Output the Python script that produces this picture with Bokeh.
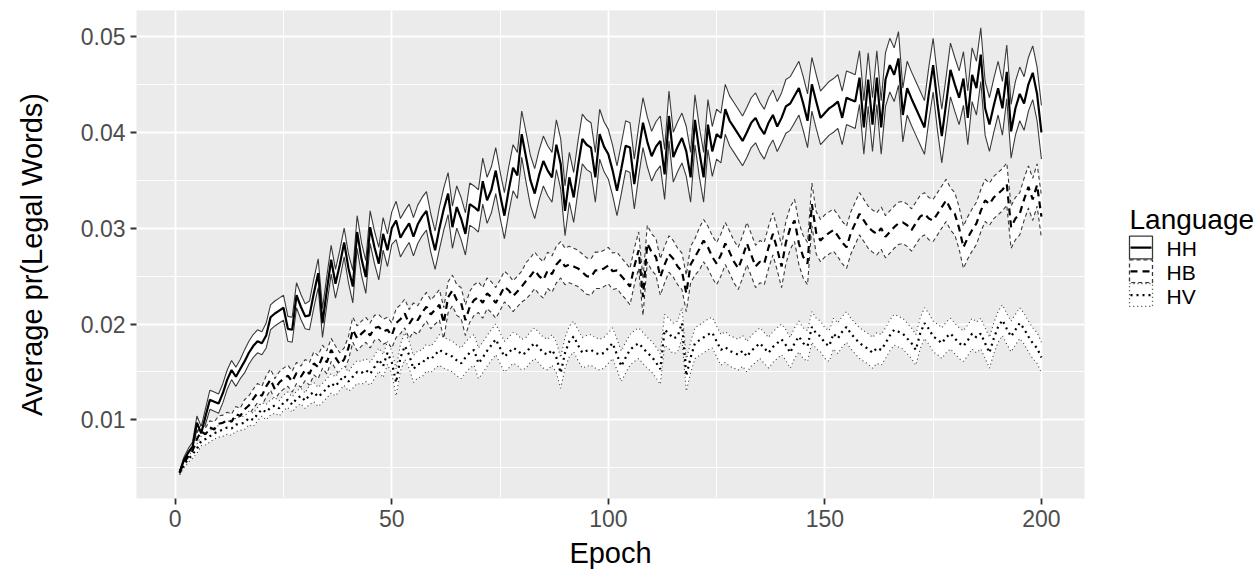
from bokeh.plotting import figure
from bokeh.models import ColumnDataSource, Range1d, FixedTicker, PrintfTickFormatter
from bokeh.layouts import row
from bokeh.core.properties import value
from bokeh.embed import file_html
from bokeh.resources import INLINE

languages = ["HH", "HB", "HV"]
epochs = list(range(1, 201))

HH_mean = [
    0.0045, 0.0058, 0.0066, 0.0072, 0.0097, 0.0086, 0.0104, 0.0121, 0.0119, 0.0117,
    0.0128, 0.0142, 0.0152, 0.0145, 0.0153, 0.0161, 0.0170, 0.0177, 0.0182, 0.0180,
    0.0188, 0.0207, 0.0211, 0.0214, 0.0217, 0.0195, 0.0194, 0.0230, 0.0218, 0.0208,
    0.0209, 0.0232, 0.0253, 0.0201, 0.0235, 0.0267, 0.0242, 0.0262, 0.0285, 0.0258,
    0.0239, 0.0296, 0.0268, 0.0249, 0.0301, 0.0280, 0.0263, 0.0294, 0.0277, 0.0300,
    0.0308, 0.0290, 0.0298, 0.0305, 0.0291, 0.0304, 0.0312, 0.0318, 0.0295, 0.0277,
    0.0300, 0.0320, 0.0336, 0.0301, 0.0322, 0.0310, 0.0294, 0.0325, 0.0322, 0.0318,
    0.0349, 0.0329, 0.0340, 0.0360, 0.0335, 0.0313, 0.0340, 0.0363, 0.0355, 0.0398,
    0.0374, 0.0350, 0.0336, 0.0355, 0.0370, 0.0360, 0.0353, 0.0387, 0.0367, 0.0318,
    0.0353, 0.0332, 0.0365, 0.0393, 0.0387, 0.0384, 0.0353, 0.0398, 0.0385, 0.0377,
    0.0360, 0.0339, 0.0362, 0.0386, 0.0384, 0.0346, 0.0380, 0.0410, 0.0390, 0.0375,
    0.0385, 0.0391, 0.0356, 0.0417, 0.0374, 0.0385, 0.0394, 0.0380, 0.0353, 0.0413,
    0.0380, 0.0353, 0.0408, 0.0380, 0.0398, 0.0394, 0.0424, 0.0412, 0.0405, 0.0398,
    0.0391, 0.0400, 0.0410, 0.0415, 0.0405, 0.0398, 0.0410, 0.0418, 0.0406, 0.0415,
    0.0427, 0.0430, 0.0438, 0.0446, 0.0430, 0.0412, 0.0450, 0.0432, 0.0415, 0.0420,
    0.0425, 0.0428, 0.0432, 0.0415, 0.0436, 0.0434, 0.0432, 0.0457, 0.0405, 0.0455,
    0.0408, 0.0457, 0.0405, 0.0455, 0.0470, 0.0460, 0.0477, 0.0418, 0.0446, 0.0435,
    0.0425, 0.0415, 0.0405, 0.0440, 0.0470, 0.0430, 0.0396, 0.0430, 0.0465, 0.0450,
    0.0436, 0.0456, 0.0415, 0.0460, 0.0446, 0.0481, 0.0425, 0.0408, 0.0428, 0.0446,
    0.0425, 0.0463, 0.0401, 0.0425, 0.0440, 0.0430, 0.0450, 0.0462, 0.0440, 0.0400,
]

HB_mean = [
    0.0045, 0.0055, 0.0062, 0.0068, 0.0080, 0.0088, 0.0085, 0.0092, 0.0090, 0.0096,
    0.0097, 0.0100, 0.0098, 0.0106, 0.0104, 0.0111, 0.0115, 0.0122, 0.0128, 0.0125,
    0.0135, 0.0142, 0.0132, 0.0139, 0.0143, 0.0146, 0.0140, 0.0149, 0.0145, 0.0152,
    0.0148, 0.0159, 0.0155, 0.0166, 0.0160, 0.0173, 0.0165, 0.0158, 0.0163, 0.0175,
    0.0194, 0.0185, 0.0190, 0.0194, 0.0188, 0.0196, 0.0197, 0.0192, 0.0194, 0.0188,
    0.0201, 0.0205, 0.0211, 0.0200, 0.0207, 0.0204, 0.0212, 0.0218, 0.0210, 0.0215,
    0.0220, 0.0201, 0.0228, 0.0235, 0.0225, 0.0222, 0.0204, 0.0218, 0.0225, 0.0228,
    0.0222, 0.0232, 0.0228, 0.0222, 0.0230, 0.0239, 0.0235, 0.0229, 0.0234, 0.0239,
    0.0245, 0.0250, 0.0256, 0.0250, 0.0246, 0.0256, 0.0252, 0.0262, 0.0267, 0.0260,
    0.0262, 0.0260, 0.0258, 0.0254, 0.0250, 0.0249, 0.0256, 0.0256, 0.0258, 0.0261,
    0.0255, 0.0256, 0.0250, 0.0245, 0.0239, 0.0260, 0.0277, 0.0228, 0.0284, 0.0275,
    0.0270, 0.0249, 0.0262, 0.0273, 0.0268, 0.0260, 0.0255, 0.0232, 0.0262, 0.0270,
    0.0278, 0.0287, 0.0280, 0.0270, 0.0263, 0.0272, 0.0284, 0.0275, 0.0265, 0.0258,
    0.0270, 0.0284, 0.0272, 0.0260, 0.0265, 0.0263, 0.0280, 0.0294, 0.0278, 0.0260,
    0.0285, 0.0300, 0.0308, 0.0284, 0.0270, 0.0263, 0.0325, 0.0295, 0.0287, 0.0292,
    0.0295, 0.0298, 0.0292, 0.0285, 0.0280, 0.0295, 0.0305, 0.0315, 0.0308, 0.0301,
    0.0297, 0.0294, 0.0300, 0.0291, 0.0296, 0.0301, 0.0305, 0.0306, 0.0303, 0.0298,
    0.0305, 0.0312, 0.0315, 0.0310, 0.0308, 0.0315, 0.0322, 0.0329, 0.0320, 0.0315,
    0.0300, 0.0280, 0.0290, 0.0298, 0.0305, 0.0318, 0.0329, 0.0325, 0.0332, 0.0336,
    0.0340, 0.0346, 0.0301, 0.0310, 0.0315, 0.0330, 0.0343, 0.0330, 0.0345, 0.0312,
]

HV_mean = [
    0.0045, 0.0053, 0.0059, 0.0064, 0.0070, 0.0078, 0.0080, 0.0083, 0.0086, 0.0088,
    0.0090, 0.0092, 0.0091, 0.0095, 0.0096, 0.0097, 0.0102, 0.0100, 0.0106, 0.0111,
    0.0108, 0.0113, 0.0115, 0.0112, 0.0118, 0.0121, 0.0116, 0.0122, 0.0125, 0.0120,
    0.0126, 0.0129, 0.0124, 0.0128, 0.0133, 0.0138, 0.0135, 0.0141, 0.0146, 0.0140,
    0.0145, 0.0150, 0.0149, 0.0152, 0.0148, 0.0155, 0.0163, 0.0156, 0.0170, 0.0160,
    0.0139, 0.0165, 0.0177, 0.0168, 0.0153, 0.0158, 0.0159, 0.0165, 0.0163, 0.0168,
    0.0173, 0.0170, 0.0168, 0.0166, 0.0162, 0.0159, 0.0165, 0.0170, 0.0173, 0.0159,
    0.0165, 0.0172, 0.0178, 0.0184, 0.0175, 0.0166, 0.0170, 0.0175, 0.0173, 0.0168,
    0.0170, 0.0176, 0.0180, 0.0175, 0.0170, 0.0168, 0.0173, 0.0165, 0.0149, 0.0170,
    0.0182, 0.0187, 0.0178, 0.0170, 0.0172, 0.0173, 0.0170, 0.0168, 0.0170, 0.0175,
    0.0180, 0.0168, 0.0156, 0.0165, 0.0173, 0.0177, 0.0180, 0.0175, 0.0170, 0.0166,
    0.0160, 0.0153, 0.0194, 0.0190, 0.0185, 0.0187, 0.0201, 0.0146, 0.0165, 0.0180,
    0.0183, 0.0186, 0.0189, 0.0191, 0.0182, 0.0173, 0.0176, 0.0172, 0.0170, 0.0168,
    0.0172, 0.0166, 0.0172, 0.0176, 0.0180, 0.0175, 0.0170, 0.0176, 0.0180, 0.0184,
    0.0178, 0.0170, 0.0180, 0.0187, 0.0180, 0.0177, 0.0197, 0.0190, 0.0187, 0.0180,
    0.0177, 0.0190, 0.0185, 0.0192, 0.0197, 0.0190, 0.0185, 0.0180, 0.0177, 0.0174,
    0.0170, 0.0175, 0.0173, 0.0180, 0.0188, 0.0194, 0.0192, 0.0190, 0.0185, 0.0180,
    0.0173, 0.0190, 0.0201, 0.0195, 0.0187, 0.0184, 0.0180, 0.0186, 0.0190, 0.0185,
    0.0180, 0.0177, 0.0183, 0.0190, 0.0186, 0.0190, 0.0180, 0.0170, 0.0185, 0.0197,
    0.0204, 0.0195, 0.0187, 0.0194, 0.0201, 0.0195, 0.0187, 0.0180, 0.0175, 0.0165,
]

# half-width of the confidence ribbon around each mean
HH_halfwidth = [
    0.0002, 0.0003, 0.0004, 0.0005, 0.0007, 0.0007, 0.0008, 0.0010, 0.0010, 0.0010,
    0.0010, 0.0010, 0.0010, 0.0010, 0.0010, 0.0012, 0.0012, 0.0012, 0.0012, 0.0012,
    0.0013, 0.0013, 0.0013, 0.0013, 0.0013, 0.0013, 0.0013, 0.0013, 0.0013, 0.0013,
    0.0015, 0.0015, 0.0015, 0.0015, 0.0015, 0.0015, 0.0015, 0.0015, 0.0015, 0.0015,
    0.0017, 0.0017, 0.0017, 0.0017, 0.0017, 0.0017, 0.0017, 0.0017, 0.0017, 0.0017,
    0.0020, 0.0020, 0.0020, 0.0020, 0.0020, 0.0020, 0.0020, 0.0020, 0.0020, 0.0020,
    0.0022, 0.0022, 0.0022, 0.0022, 0.0022, 0.0022, 0.0022, 0.0022, 0.0022, 0.0022,
    0.0024, 0.0024, 0.0024, 0.0024, 0.0024, 0.0024, 0.0024, 0.0024, 0.0024, 0.0024,
    0.0026, 0.0026, 0.0026, 0.0026, 0.0026, 0.0026, 0.0026, 0.0026, 0.0026, 0.0026,
    0.0026, 0.0026, 0.0026, 0.0026, 0.0026, 0.0026, 0.0026, 0.0026, 0.0026, 0.0026,
    0.0026, 0.0026, 0.0026, 0.0026, 0.0026, 0.0026, 0.0026, 0.0026, 0.0026, 0.0026,
    0.0026, 0.0026, 0.0026, 0.0026, 0.0026, 0.0026, 0.0026, 0.0026, 0.0026, 0.0026,
    0.0026, 0.0026, 0.0026, 0.0026, 0.0026, 0.0026, 0.0026, 0.0026, 0.0026, 0.0026,
    0.0026, 0.0026, 0.0026, 0.0026, 0.0026, 0.0026, 0.0026, 0.0026, 0.0026, 0.0026,
    0.0028, 0.0028, 0.0028, 0.0028, 0.0028, 0.0028, 0.0028, 0.0028, 0.0028, 0.0028,
    0.0028, 0.0028, 0.0028, 0.0028, 0.0028, 0.0028, 0.0028, 0.0028, 0.0028, 0.0028,
    0.0028, 0.0028, 0.0028, 0.0028, 0.0028, 0.0028, 0.0028, 0.0028, 0.0028, 0.0028,
    0.0028, 0.0028, 0.0028, 0.0028, 0.0028, 0.0028, 0.0028, 0.0028, 0.0028, 0.0028,
    0.0028, 0.0028, 0.0028, 0.0028, 0.0028, 0.0028, 0.0028, 0.0028, 0.0028, 0.0028,
    0.0028, 0.0028, 0.0028, 0.0028, 0.0028, 0.0028, 0.0028, 0.0028, 0.0028, 0.0028,
]

HB_halfwidth = [
    0.0002, 0.0003, 0.0004, 0.0005, 0.0006, 0.0007, 0.0007, 0.0007, 0.0008, 0.0008,
    0.0008, 0.0008, 0.0008, 0.0008, 0.0008, 0.0010, 0.0010, 0.0010, 0.0010, 0.0010,
    0.0011, 0.0011, 0.0011, 0.0011, 0.0011, 0.0011, 0.0011, 0.0011, 0.0011, 0.0011,
    0.0012, 0.0012, 0.0012, 0.0012, 0.0012, 0.0012, 0.0012, 0.0012, 0.0012, 0.0012,
    0.0013, 0.0013, 0.0013, 0.0013, 0.0013, 0.0013, 0.0013, 0.0013, 0.0013, 0.0013,
    0.0015, 0.0015, 0.0015, 0.0015, 0.0015, 0.0015, 0.0015, 0.0015, 0.0015, 0.0015,
    0.0016, 0.0016, 0.0016, 0.0016, 0.0016, 0.0016, 0.0016, 0.0016, 0.0016, 0.0016,
    0.0016, 0.0016, 0.0016, 0.0016, 0.0016, 0.0016, 0.0016, 0.0016, 0.0016, 0.0016,
    0.0019, 0.0019, 0.0019, 0.0019, 0.0019, 0.0019, 0.0019, 0.0019, 0.0019, 0.0019,
    0.0019, 0.0019, 0.0019, 0.0019, 0.0019, 0.0019, 0.0019, 0.0019, 0.0019, 0.0019,
    0.0019, 0.0019, 0.0019, 0.0019, 0.0019, 0.0019, 0.0019, 0.0019, 0.0019, 0.0019,
    0.0019, 0.0019, 0.0019, 0.0019, 0.0019, 0.0019, 0.0019, 0.0019, 0.0019, 0.0019,
    0.0022, 0.0022, 0.0022, 0.0022, 0.0022, 0.0022, 0.0022, 0.0022, 0.0022, 0.0022,
    0.0022, 0.0022, 0.0022, 0.0022, 0.0022, 0.0022, 0.0022, 0.0022, 0.0022, 0.0022,
    0.0022, 0.0022, 0.0022, 0.0022, 0.0022, 0.0022, 0.0022, 0.0022, 0.0022, 0.0022,
    0.0022, 0.0022, 0.0022, 0.0022, 0.0022, 0.0022, 0.0022, 0.0022, 0.0022, 0.0022,
    0.0022, 0.0022, 0.0022, 0.0022, 0.0022, 0.0022, 0.0022, 0.0022, 0.0022, 0.0022,
    0.0022, 0.0022, 0.0022, 0.0022, 0.0022, 0.0022, 0.0022, 0.0022, 0.0022, 0.0022,
    0.0022, 0.0022, 0.0022, 0.0022, 0.0022, 0.0022, 0.0022, 0.0022, 0.0022, 0.0022,
    0.0022, 0.0022, 0.0022, 0.0022, 0.0022, 0.0022, 0.0022, 0.0022, 0.0022, 0.0022,
]

HV_halfwidth = [
    0.0002, 0.0003, 0.0003, 0.0004, 0.0005, 0.0005, 0.0006, 0.0006, 0.0006, 0.0006,
    0.0007, 0.0007, 0.0007, 0.0007, 0.0007, 0.0007, 0.0007, 0.0007, 0.0007, 0.0007,
    0.0008, 0.0008, 0.0008, 0.0008, 0.0008, 0.0008, 0.0008, 0.0008, 0.0008, 0.0008,
    0.0010, 0.0010, 0.0010, 0.0010, 0.0010, 0.0010, 0.0010, 0.0010, 0.0010, 0.0010,
    0.0012, 0.0012, 0.0012, 0.0012, 0.0012, 0.0012, 0.0012, 0.0012, 0.0012, 0.0012,
    0.0014, 0.0014, 0.0014, 0.0014, 0.0014, 0.0014, 0.0014, 0.0014, 0.0014, 0.0014,
    0.0016, 0.0016, 0.0016, 0.0016, 0.0016, 0.0016, 0.0016, 0.0016, 0.0016, 0.0016,
    0.0016, 0.0016, 0.0016, 0.0016, 0.0016, 0.0016, 0.0016, 0.0016, 0.0016, 0.0016,
    0.0016, 0.0016, 0.0016, 0.0016, 0.0016, 0.0016, 0.0016, 0.0016, 0.0016, 0.0016,
    0.0016, 0.0016, 0.0016, 0.0016, 0.0016, 0.0016, 0.0016, 0.0016, 0.0016, 0.0016,
    0.0016, 0.0016, 0.0016, 0.0016, 0.0016, 0.0016, 0.0016, 0.0016, 0.0016, 0.0016,
    0.0016, 0.0016, 0.0016, 0.0016, 0.0016, 0.0016, 0.0016, 0.0016, 0.0016, 0.0016,
    0.0016, 0.0016, 0.0016, 0.0016, 0.0016, 0.0016, 0.0016, 0.0016, 0.0016, 0.0016,
    0.0016, 0.0016, 0.0016, 0.0016, 0.0016, 0.0016, 0.0016, 0.0016, 0.0016, 0.0016,
    0.0016, 0.0016, 0.0016, 0.0016, 0.0016, 0.0016, 0.0016, 0.0016, 0.0016, 0.0016,
    0.0016, 0.0016, 0.0016, 0.0016, 0.0016, 0.0016, 0.0016, 0.0016, 0.0016, 0.0016,
    0.0016, 0.0016, 0.0016, 0.0016, 0.0016, 0.0016, 0.0016, 0.0016, 0.0016, 0.0016,
    0.0016, 0.0016, 0.0016, 0.0016, 0.0016, 0.0016, 0.0016, 0.0016, 0.0016, 0.0016,
    0.0016, 0.0016, 0.0016, 0.0016, 0.0016, 0.0016, 0.0016, 0.0016, 0.0016, 0.0016,
    0.0016, 0.0016, 0.0016, 0.0016, 0.0016, 0.0016, 0.0016, 0.0016, 0.0016, 0.0016,
]

x_ticks = [0, 50, 100, 150, 200]
x_minor = [25, 75, 125, 175]
y_ticks = [0.01, 0.02, 0.03, 0.04, 0.05]
y_minor = [0.005, 0.015, 0.025, 0.035, 0.045]

means = {"HH": HH_mean, "HB": HB_mean, "HV": HV_mean}
halfw = {"HH": HH_halfwidth, "HB": HB_halfwidth, "HV": HV_halfwidth}

FONT = "Liberation Sans"
outline_dash = {"HH": "solid", "HB": "4 3", "HV": "1 3"}
mean_dash = {"HH": "solid", "HB": "7 5", "HV": "2 4"}
OUTLINE = "#3a3a3a"

MAIN_W, LEG_W, H = 1100, 160, 571
TOP, BOTTOM = 10, 68

p = figure(width=MAIN_W, height=H, output_backend="svg", toolbar_location=None,
           x_range=Range1d(-8.95, 209.95), y_range=Range1d(0.0018, 0.0527),
           min_border_left=136, min_border_right=16, min_border_top=TOP,
           min_border_bottom=BOTTOM)
p.background_fill_color = "#EBEBEB"
p.border_fill_color = "white"
p.outline_line_color = None

# axes
p.xaxis.ticker = FixedTicker(ticks=x_ticks, minor_ticks=x_minor)
p.yaxis.ticker = FixedTicker(ticks=y_ticks, minor_ticks=y_minor)
p.yaxis.formatter = PrintfTickFormatter(format="%.2f")
for ax in (p.xaxis[0], p.yaxis[0]):
    ax.axis_line_color = None
    ax.major_tick_in = 0
    ax.major_tick_out = 6
    ax.major_tick_line_color = "#333333"
    ax.major_tick_line_width = 1.8
    ax.minor_tick_line_color = None
    ax.major_label_text_font = FONT
    ax.major_label_text_font_size = "23px"
    ax.major_label_text_color = "#4D4D4D"
    ax.major_label_standoff = 5
    ax.axis_label_text_font = FONT
    ax.axis_label_text_font_size = "29px"
    ax.axis_label_text_font_style = "normal"
    ax.axis_label_text_color = "black"
p.xaxis.axis_label = "Epoch"
p.yaxis.axis_label = "Average pr(Legal Words)"
p.xaxis.axis_label_standoff = 7
p.yaxis.axis_label_standoff = 30

for g in (p.xgrid[0], p.ygrid[0]):
    g.grid_line_color = "white"
    g.grid_line_width = 1.8
    g.minor_grid_line_color = "white"
    g.minor_grid_line_width = 0.9

# ribbons (fill + upper/lower outlines), drawn group by group
for lang in languages:
    m = means[lang]
    h = halfw[lang]
    src = ColumnDataSource(dict(x=epochs,
                                lower=[a - b for a, b in zip(m, h)],
                                upper=[a + b for a, b in zip(m, h)]))
    p.varea(x="x", y1="lower", y2="upper", source=src, fill_color="white")
    p.line(x="x", y="upper", source=src, line_color=OUTLINE, line_width=1.1,
           line_dash=outline_dash[lang])
    p.line(x="x", y="lower", source=src, line_color=OUTLINE, line_width=1.1,
           line_dash=outline_dash[lang])

# mean lines
for lang in languages:
    src = ColumnDataSource(dict(x=epochs, y=means[lang]))
    p.line(x="x", y="y", source=src, line_color="black", line_width=2.2,
           line_dash=mean_dash[lang])

# ---- legend panel: separate figure whose frame matches the main frame vertically;
# its ranges are set so that coordinates equal page pixels (y downwards) ----
leg = figure(width=LEG_W, height=H, output_backend="svg", toolbar_location=None,
             title=None, x_range=Range1d(0, LEG_W), y_range=Range1d(H - BOTTOM, TOP),
             min_border_left=0, min_border_right=0,
             min_border_top=TOP, min_border_bottom=BOTTOM,
             x_axis_type=None, y_axis_type=None)
leg.grid.visible = False
leg.outline_line_color = None
leg.background_fill_color = "white"
leg.border_fill_color = "white"

key_left, key_w, key_h, key_top0, key_step = 29, 23, 23, 238, 24
leg.text(x=[key_left], y=[221], text=["Language"], text_font=value(FONT),
         text_font_size="28px", text_color="black", text_baseline="alphabetic")
for i, lang in enumerate(languages):
    top = key_top0 + i * key_step
    mid = top + key_h / 2
    leg.quad(left=[key_left], right=[key_left + key_w], top=[top], bottom=[top + key_h],
             fill_color="white", line_color=OUTLINE, line_width=1.3,
             line_dash=outline_dash[lang])
    leg.segment(x0=[key_left + 1], y0=[mid], x1=[key_left + key_w - 1], y1=[mid],
                line_color="black", line_width=2.2, line_dash=mean_dash[lang])
    leg.text(x=[key_left + key_w + 14], y=[mid + 1], text=[lang], text_font=value(FONT),
             text_font_size="21px", text_color="black", text_baseline="middle")

layout = row(p, leg)
open("out.html", "w").write(file_html(layout, INLINE))
